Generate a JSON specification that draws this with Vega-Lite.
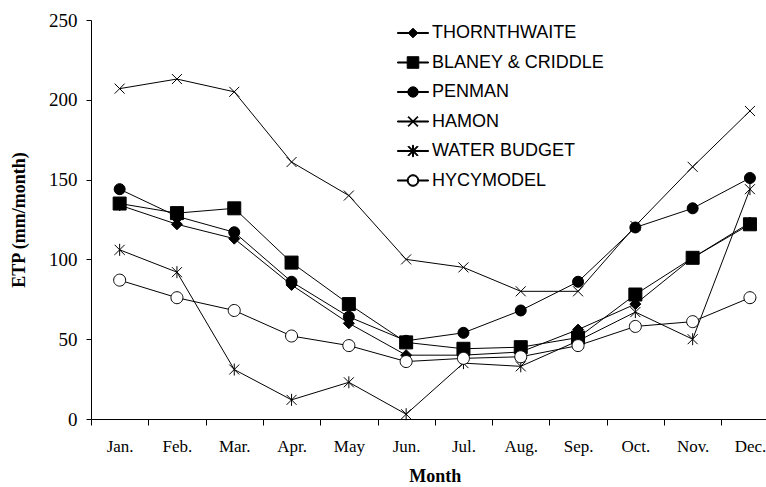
{
  "$schema": "https://vega.github.io/schema/vega-lite/v6.json",
  "autosize": {"type": "none"},
  "padding": {"left": 91, "top": 20, "right": 0, "bottom": 68},
  "width": 675,
  "height": 399,
  "background": "white",
  "config": {
    "view": {"stroke": null},
    "axis": {"domainColor": "black", "tickColor": "black", "grid": false, "labelColor": "black", "titleColor": "black"}
  },
  "data": {
    "values": [
      {"month": "Jan.", "series": "THORNTHWAITE", "etp": 134},
      {"month": "Feb.", "series": "THORNTHWAITE", "etp": 122},
      {"month": "Mar.", "series": "THORNTHWAITE", "etp": 113},
      {"month": "Apr.", "series": "THORNTHWAITE", "etp": 84},
      {"month": "May", "series": "THORNTHWAITE", "etp": 60},
      {"month": "Jun.", "series": "THORNTHWAITE", "etp": 40},
      {"month": "Jul.", "series": "THORNTHWAITE", "etp": 40},
      {"month": "Aug.", "series": "THORNTHWAITE", "etp": 42},
      {"month": "Sep.", "series": "THORNTHWAITE", "etp": 56},
      {"month": "Oct.", "series": "THORNTHWAITE", "etp": 72},
      {"month": "Nov.", "series": "THORNTHWAITE", "etp": 101},
      {"month": "Dec.", "series": "THORNTHWAITE", "etp": 123},
      {"month": "Jan.", "series": "BLANEY & CRIDDLE", "etp": 135},
      {"month": "Feb.", "series": "BLANEY & CRIDDLE", "etp": 129},
      {"month": "Mar.", "series": "BLANEY & CRIDDLE", "etp": 132},
      {"month": "Apr.", "series": "BLANEY & CRIDDLE", "etp": 98},
      {"month": "May", "series": "BLANEY & CRIDDLE", "etp": 72},
      {"month": "Jun.", "series": "BLANEY & CRIDDLE", "etp": 48},
      {"month": "Jul.", "series": "BLANEY & CRIDDLE", "etp": 44},
      {"month": "Aug.", "series": "BLANEY & CRIDDLE", "etp": 45},
      {"month": "Sep.", "series": "BLANEY & CRIDDLE", "etp": 51},
      {"month": "Oct.", "series": "BLANEY & CRIDDLE", "etp": 78},
      {"month": "Nov.", "series": "BLANEY & CRIDDLE", "etp": 101},
      {"month": "Dec.", "series": "BLANEY & CRIDDLE", "etp": 122},
      {"month": "Jan.", "series": "PENMAN", "etp": 144},
      {"month": "Feb.", "series": "PENMAN", "etp": 127},
      {"month": "Mar.", "series": "PENMAN", "etp": 117},
      {"month": "Apr.", "series": "PENMAN", "etp": 86},
      {"month": "May", "series": "PENMAN", "etp": 64},
      {"month": "Jun.", "series": "PENMAN", "etp": 49},
      {"month": "Jul.", "series": "PENMAN", "etp": 54},
      {"month": "Aug.", "series": "PENMAN", "etp": 68},
      {"month": "Sep.", "series": "PENMAN", "etp": 86},
      {"month": "Oct.", "series": "PENMAN", "etp": 120},
      {"month": "Nov.", "series": "PENMAN", "etp": 132},
      {"month": "Dec.", "series": "PENMAN", "etp": 151},
      {"month": "Jan.", "series": "HAMON", "etp": 207},
      {"month": "Feb.", "series": "HAMON", "etp": 213},
      {"month": "Mar.", "series": "HAMON", "etp": 205},
      {"month": "Apr.", "series": "HAMON", "etp": 161},
      {"month": "May", "series": "HAMON", "etp": 140},
      {"month": "Jun.", "series": "HAMON", "etp": 100},
      {"month": "Jul.", "series": "HAMON", "etp": 95},
      {"month": "Aug.", "series": "HAMON", "etp": 80},
      {"month": "Sep.", "series": "HAMON", "etp": 80},
      {"month": "Oct.", "series": "HAMON", "etp": 121},
      {"month": "Nov.", "series": "HAMON", "etp": 158},
      {"month": "Dec.", "series": "HAMON", "etp": 193},
      {"month": "Jan.", "series": "WATER BUDGET", "etp": 106},
      {"month": "Feb.", "series": "WATER BUDGET", "etp": 92},
      {"month": "Mar.", "series": "WATER BUDGET", "etp": 31},
      {"month": "Apr.", "series": "WATER BUDGET", "etp": 12},
      {"month": "May", "series": "WATER BUDGET", "etp": 23},
      {"month": "Jun.", "series": "WATER BUDGET", "etp": 3},
      {"month": "Jul.", "series": "WATER BUDGET", "etp": 35},
      {"month": "Aug.", "series": "WATER BUDGET", "etp": 33},
      {"month": "Sep.", "series": "WATER BUDGET", "etp": 49},
      {"month": "Oct.", "series": "WATER BUDGET", "etp": 67},
      {"month": "Nov.", "series": "WATER BUDGET", "etp": 50},
      {"month": "Dec.", "series": "WATER BUDGET", "etp": 144},
      {"month": "Jan.", "series": "HYCYMODEL", "etp": 87},
      {"month": "Feb.", "series": "HYCYMODEL", "etp": 76},
      {"month": "Mar.", "series": "HYCYMODEL", "etp": 68},
      {"month": "Apr.", "series": "HYCYMODEL", "etp": 52},
      {"month": "May", "series": "HYCYMODEL", "etp": 46},
      {"month": "Jun.", "series": "HYCYMODEL", "etp": 36},
      {"month": "Jul.", "series": "HYCYMODEL", "etp": 38},
      {"month": "Aug.", "series": "HYCYMODEL", "etp": 39},
      {"month": "Sep.", "series": "HYCYMODEL", "etp": 46},
      {"month": "Oct.", "series": "HYCYMODEL", "etp": 58},
      {"month": "Nov.", "series": "HYCYMODEL", "etp": 61},
      {"month": "Dec.", "series": "HYCYMODEL", "etp": 76}
    ]
  },
  "encoding": {
    "x": {
      "field": "month",
      "type": "ordinal",
      "scale": {
        "type": "band",
        "domain": ["Jan.", "Feb.", "Mar.", "Apr.", "May", "Jun.", "Jul.", "Aug.", "Sep.", "Oct.", "Nov.", "Dec."],
        "range": [0, 687.6],
        "paddingInner": 0,
        "paddingOuter": 0
      },
      "axis": {
        "title": "Month",
        "tickBand": "extent",
        "labelAngle": 0,
        "tickSize": 6,
        "labelPadding": 13,
        "labelFont": "Liberation Serif",
        "labelFontSize": 17,
        "titleFont": "Liberation Serif",
        "titleFontSize": 18,
        "titleFontWeight": "bold",
        "titlePadding": 13
      }
    },
    "y": {
      "field": "etp",
      "type": "quantitative",
      "scale": {"domain": [0, 250], "nice": false, "zero": true},
      "axis": {
        "title": "ETP (mm/month)",
        "values": [0, 50, 100, 150, 200, 250],
        "tickSize": 5,
        "labelPadding": 9,
        "labelFont": "Liberation Serif",
        "labelFontSize": 19,
        "titleFont": "Liberation Serif",
        "titleFontSize": 18,
        "titleFontWeight": "bold",
        "titleX": -72,
        "titleY": 199.5,
        "titleBaseline": "middle"
      }
    }
  },
  "layer": [
    {
      "mark": {"type": "line", "color": "black", "strokeWidth": 1},
      "encoding": {"detail": {"field": "series"}}
    },
    {
      "mark": {"type": "point", "stroke": "black", "strokeWidth": 1, "opacity": 1, "size": 100},
      "encoding": {
        "shape": {
          "field": "series",
          "type": "nominal",
          "scale": {
            "domain": ["HYCYMODEL", "WATER BUDGET", "HAMON", "PENMAN", "BLANEY & CRIDDLE", "THORNTHWAITE"],
            "range": [
              "M1.2,0A1.2,1.2 0 1,1 -1.2,0A1.2,1.2 0 1,1 1.2,0Z",
              "M-1,-1L1,1M1,-1L-1,1M0,-1.2V1.2",
              "M-1,-1L1,1M1,-1L-1,1",
              "M1.1,0A1.1,1.1 0 1,1 -1.1,0A1.1,1.1 0 1,1 1.1,0Z",
              "M-1.3,-1.3H1.3V1.3H-1.3Z",
              "M0,-1.1L1.1,0L0,1.1L-1.1,0Z"
            ]
          },
          "legend": null
        },
        "fill": {
          "field": "series",
          "type": "nominal",
          "scale": {
            "domain": ["HYCYMODEL", "WATER BUDGET", "HAMON", "PENMAN", "BLANEY & CRIDDLE", "THORNTHWAITE"],
            "range": ["white", "black", "black", "black", "black", "black"]
          },
          "legend": null
        }
      }
    },
    {
      "mark": {"type": "point", "stroke": "black", "strokeWidth": 1, "opacity": 1, "size": 0},
      "encoding": {
        "shape": {
          "field": "series",
          "type": "nominal",
          "scale": {
            "domain": ["THORNTHWAITE", "BLANEY & CRIDDLE", "PENMAN", "HAMON", "WATER BUDGET", "HYCYMODEL"],
            "range": [
              "M-1.5,-0.05V0.05H1.5V-0.05ZM0,-0.47L-0.47,0L0,0.47L0.47,0Z",
              "M-1.5,-0.05V0.05H1.5V-0.05ZM-0.56,-0.56V0.56H0.56V-0.56Z",
              "M-1.5,-0.05V0.05H-0.47V-0.05ZM0.47,-0.05V0.05H1.5V-0.05ZM0.5,0A0.5,0.5 0 1,0 -0.5,0A0.5,0.5 0 1,0 0.5,0Z",
              "M-1.5,-0.05V0.05H1.5V-0.05ZM-0.485,-0.415L0.415,0.485L0.485,0.415L-0.415,-0.485ZM0.415,-0.485L-0.485,0.415L-0.415,0.485L0.485,-0.415Z",
              "M-1.5,-0.05V0.05H1.5V-0.05ZM-0.485,-0.415L0.415,0.485L0.485,0.415L-0.415,-0.485ZM0.415,-0.485L-0.485,0.415L-0.415,0.485L0.485,-0.415ZM-0.05,-0.55V0.55H0.05V-0.55Z",
              "M-1.5,-0.05V0.05H-0.53V-0.05ZM0.53,-0.05V0.05H1.5V-0.05ZM0.56,0A0.56,0.56 0 1,0 -0.56,0A0.56,0.56 0 1,0 0.56,0ZM0.46,0A0.46,0.46 0 1,1 -0.46,0A0.46,0.46 0 1,1 0.46,0Z"
            ]
          },
          "legend": {
            "title": null,
            "orient": "none",
            "legendX": 311,
            "legendY": 2,
            "padding": 0,
            "symbolSize": 427,
            "rowPadding": 9.5,
            "labelOffset": 8,
            "labelLimit": 0,
            "labelFont": "Liberation Sans",
            "labelFontSize": 18,
            "labelColor": "black",
            "symbolStrokeWidth": 1
          }
        },
        "fill": {
          "field": "series",
          "type": "nominal",
          "scale": {
            "domain": ["THORNTHWAITE", "BLANEY & CRIDDLE", "PENMAN", "HAMON", "WATER BUDGET", "HYCYMODEL"],
            "range": ["black", "black", "black", "black", "black", "black"]
          },
          "legend": {
            "title": null,
            "orient": "none",
            "legendX": 311,
            "legendY": 2,
            "padding": 0,
            "symbolSize": 427,
            "rowPadding": 9.5,
            "labelOffset": 8,
            "labelLimit": 0,
            "labelFont": "Liberation Sans",
            "labelFontSize": 18,
            "labelColor": "black",
            "symbolStrokeWidth": 1
          }
        }
      }
    }
  ],
  "resolve": {
    "scale": {"shape": "independent", "fill": "independent"},
    "legend": {"shape": "independent", "fill": "independent"}
  }
}
